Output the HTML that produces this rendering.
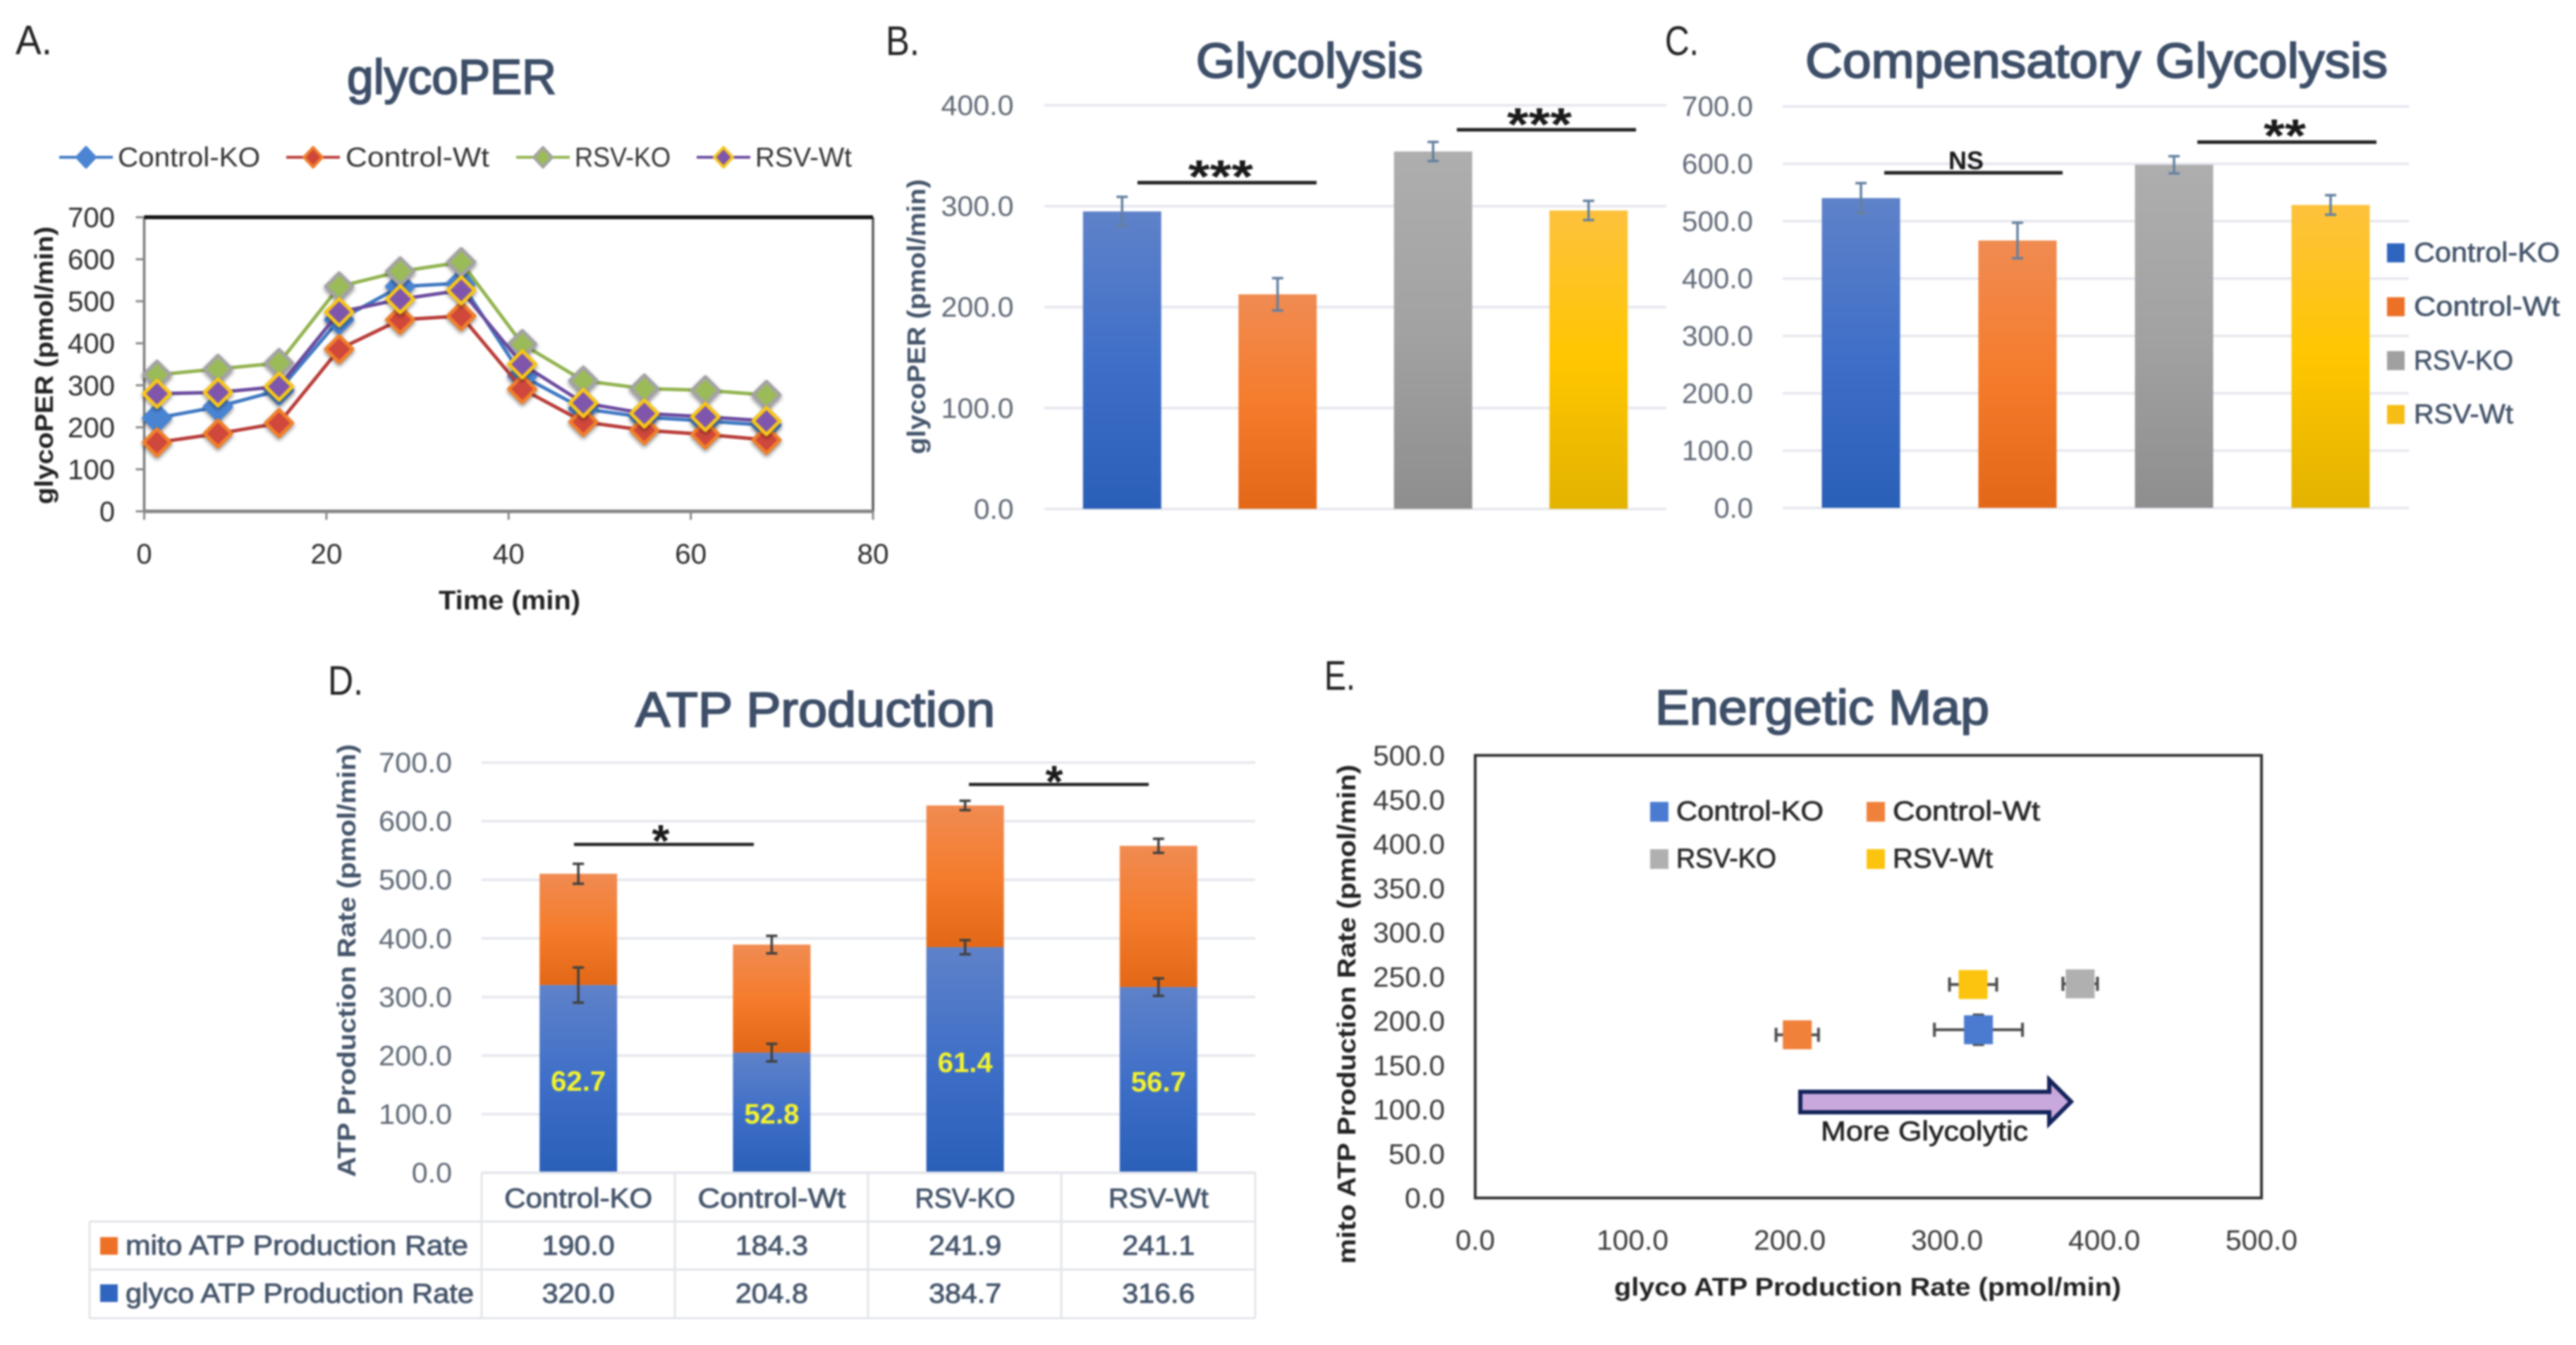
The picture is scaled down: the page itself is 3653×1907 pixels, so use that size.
<!DOCTYPE html>
<html lang="en">
<head>
<meta charset="utf-8">
<title>Glycolytic rate and ATP production panels</title>
<style>
html,body{margin:0;padding:0;background:#fff;width:3653px;height:1907px;overflow:hidden}
#figure{display:block;filter:blur(1.4px)}
text{font-family:"Liberation Sans",sans-serif}
.panel-letter{font-size:58px;fill:#222}
.title{font-size:70px;fill:#3d4e68;stroke:#3d4e68;stroke-width:2px}
.ytitle{font-size:36px;font-weight:bold}
.sig{font-weight:bold;fill:#1a1a1a}
</style>
</head>
<body>
<svg id="figure" xmlns="http://www.w3.org/2000/svg" width="3653" height="1907" viewBox="0 0 3653 1907">
  <defs>
    <linearGradient id="grad-blue" x1="0" y1="0" x2="0" y2="1"><stop offset="0" stop-color="#5f82c9"/><stop offset=".5" stop-color="#3f6fc8"/><stop offset="1" stop-color="#2a5fb8"/></linearGradient>
    <linearGradient id="grad-orange" x1="0" y1="0" x2="0" y2="1"><stop offset="0" stop-color="#f08b52"/><stop offset=".5" stop-color="#f57c2c"/><stop offset="1" stop-color="#e26818"/></linearGradient>
    <linearGradient id="grad-gray" x1="0" y1="0" x2="0" y2="1"><stop offset="0" stop-color="#aeaeae"/><stop offset=".5" stop-color="#a2a2a2"/><stop offset="1" stop-color="#8e8e8e"/></linearGradient>
    <linearGradient id="grad-yellow" x1="0" y1="0" x2="0" y2="1"><stop offset="0" stop-color="#fdc23c"/><stop offset=".5" stop-color="#ffc600"/><stop offset="1" stop-color="#e3b300"/></linearGradient>
    <filter id="marker-shadow" x="-30%" y="-30%" width="160%" height="170%"><feDropShadow dx="0" dy="3" stdDeviation="3" flood-color="#000" flood-opacity=".45"/></filter>
  </defs>
  <rect width="3653" height="1907" fill="#fff"/>

  <!-- Panel letters and titles -->
  <text class="panel-letter" x="22" y="77" textLength="52" lengthAdjust="spacingAndGlyphs">A.</text>
  <text class="panel-letter" x="1256" y="78" textLength="48" lengthAdjust="spacingAndGlyphs">B.</text>
  <text class="panel-letter" x="2361" y="78" textLength="48" lengthAdjust="spacingAndGlyphs">C.</text>
  <text class="panel-letter" x="465" y="985" textLength="50" lengthAdjust="spacingAndGlyphs">D.</text>
  <text class="panel-letter" x="1878" y="978" textLength="44" lengthAdjust="spacingAndGlyphs">E.</text>

  <text class="title" x="492" y="133" textLength="297" lengthAdjust="spacingAndGlyphs">glycoPER</text>
  <text class="title" x="1696" y="110" textLength="322" lengthAdjust="spacingAndGlyphs">Glycolysis</text>
  <text class="title" x="2560" y="110" textLength="826" lengthAdjust="spacingAndGlyphs">Compensatory Glycolysis</text>
  <text class="title" x="901" y="1030" textLength="510" lengthAdjust="spacingAndGlyphs">ATP Production</text>
  <text class="title" x="2347" y="1027" textLength="474" lengthAdjust="spacingAndGlyphs">Energetic Map</text>

  <!-- Axis titles -->
  <text class="ytitle" fill="#222" text-anchor="middle" transform="translate(75 518) rotate(-90)" textLength="394" lengthAdjust="spacingAndGlyphs">glycoPER (pmol/min)</text>
  <text fill="#222" font-size="38" font-weight="bold" x="622" y="864" textLength="201" lengthAdjust="spacingAndGlyphs">Time (min)</text>
  <text class="ytitle" fill="#44546a" text-anchor="middle" transform="translate(1312 449) rotate(-90)" textLength="390" lengthAdjust="spacingAndGlyphs">glycoPER (pmol/min)</text>
  <text class="ytitle" fill="#44546a" text-anchor="middle" transform="translate(504 1362) rotate(-90)" textLength="614" lengthAdjust="spacingAndGlyphs">ATP Production Rate (pmol/min)</text>
  <text class="ytitle" fill="#222" text-anchor="middle" transform="translate(1922 1438) rotate(-90)" textLength="708" lengthAdjust="spacingAndGlyphs">mito ATP Production Rate (pmol/min)</text>
  <text fill="#222" font-size="36" font-weight="bold" x="2289" y="1837" textLength="719" lengthAdjust="spacingAndGlyphs">glyco ATP Production Rate (pmol/min)</text>

  <!-- Chart content drawn by script, below annotations -->
  <g id="chart-a"></g>
  <g id="chart-b"></g>
  <g id="chart-c"></g>
  <g id="chart-d"></g>
  <g id="chart-e"></g>

  <!-- Significance annotations -->
  <g>
    <rect x="1613" y="256.5" width="254" height="5" fill="#222"/>
    <text class="sig" font-size="66" x="1731" y="273" text-anchor="middle" textLength="92" lengthAdjust="spacingAndGlyphs">***</text>
    <rect x="2066" y="181.5" width="254" height="5" fill="#222"/>
    <text class="sig" font-size="66" x="2183" y="199" text-anchor="middle" textLength="92" lengthAdjust="spacingAndGlyphs">***</text>
    <rect x="2672" y="242.5" width="253" height="5" fill="#222"/>
    <text class="sig" font-size="36" x="2788" y="240" text-anchor="middle" textLength="50" lengthAdjust="spacingAndGlyphs">NS</text>
    <rect x="3116" y="199" width="254" height="5" fill="#222"/>
    <text class="sig" font-size="66" x="3240" y="215" text-anchor="middle" textLength="60" lengthAdjust="spacingAndGlyphs">**</text>
    <rect x="814" y="1195" width="255" height="4.5" fill="#222"/>
    <text class="sig" font-size="64" x="937" y="1214" text-anchor="middle">*</text>
    <rect x="1374" y="1110" width="255" height="4.5" fill="#222"/>
    <text class="sig" font-size="64" x="1495" y="1130" text-anchor="middle">*</text>
  </g>

  <!-- More glycolytic arrow -->
  <path d="M2553 1548 H2906 V1531 L2937 1562 L2906 1593 V1577 H2553 Z" fill="#c9a9dd" stroke="#14235a" stroke-width="6"/>
  <text x="2582" y="1617" font-size="39" fill="#222" stroke="#222" stroke-width=".7" textLength="294" lengthAdjust="spacingAndGlyphs">More Glycolytic</text>
</svg>

<script>
// ---- Panel A: glycoPER time course ----
const timeMinutes = [1.4, 8.1, 14.8, 21.4, 28.1, 34.8, 41.5, 48.2, 54.9, 61.6, 68.3];
const perControlKO = [222, 249, 288, 456, 535, 543, 322, 244, 224, 215, 205];
const perControlWt = [164, 185, 210, 386, 456, 465, 291, 213, 193, 183, 170];
const perRsvKO = [325, 339, 353, 535, 571, 593, 398, 311, 292, 288, 277];
const perRsvWt = [280, 283, 297, 474, 505, 526, 350, 258, 233, 225, 215];
const perXTicks = [0, 20, 40, 60, 80];
const perYTicks = [0, 100, 200, 300, 400, 500, 600, 700];

// ---- Shared categories ----
const groups = ['Control-KO', 'Control-Wt', 'RSV-KO', 'RSV-Wt'];

// ---- Panel B: Glycolysis ----
const glycolysisValues = [294.6, 212.5, 354, 295.6];
const glycolysisErrors = [14.5, 16, 9.5, 9.5];
const glycolysisTicks = [0, 100, 200, 300, 400];

// ---- Panel C: Compensatory Glycolysis ----
const compensatoryValues = [540, 466, 598, 528];
const compensatoryErrors = [26, 31, 15, 17];
const compensatoryTicks = [0, 100, 200, 300, 400, 500, 600, 700];

// ---- Panel D: ATP Production ----
const glycoAtp = [320.0, 204.8, 384.7, 316.6];
const mitoAtp = [190.0, 184.3, 241.9, 241.1];
const glycoAtpErrors = [30, 15, 12, 15];
const mitoAtpErrors = [17, 15, 8, 12];
const glycoPercent = [62.7, 52.8, 61.4, 56.7];
const atpTicks = [0, 100, 200, 300, 400, 500, 600, 700];

// ---- Panel E: Energetic Map ----
const mapXErrors = [28, 13.5, 11, 15];
const mapYErrors = [17, 4, 5, 4];
const mapYTicks = [0, 50, 100, 150, 200, 250, 300, 350, 400, 450, 500];
const mapXTicks = [0, 100, 200, 300, 400, 500];

// ---- Axis functions ----
const ax = v => 204.5 + v * (1238 - 204.5) / 80;
const ay = v => 725 - v * (725 - 308) / 700;
const bx = i => 1481 + (i + 0.5) * 220.5;
const by = v => 721.4 - v * (721.4 - 149) / 400;
const cx = i => 2528 + (i + 0.5) * 222;
const cy = v => 720 - v * (720 - 150.7) / 700;
const dx = i => 683 + (i + 0.5) * 274.25;
const dy = v => 1662.6 - v * (1662.6 - 1081) / 700;
const ex = v => 2092 + v * (3207 - 2092) / 500;
const ey = v => 1698.5 - v * (1698.5 - 1071) / 500;

const SVGNS = 'http://www.w3.org/2000/svg';
function mk(tag, attrs, parent) {
  const el = document.createElementNS(SVGNS, tag);
  for (const k in attrs) el.setAttribute(k, attrs[k]);
  parent.appendChild(el);
  return el;
}
function label(parent, str, x, y, size, anchor, fill, len) {
  const t = mk('text', {x: x, y: y, 'font-size': size, 'text-anchor': anchor, fill: fill}, parent);
  if (len) {
    t.setAttribute('textLength', len);
    t.setAttribute('lengthAdjust', 'spacingAndGlyphs');
  }
  t.textContent = str;
  
  return t;
}
function errorBar(parent, x, yHigh, yLow, color, name) {
  const g = mk('g', {stroke: color, 'stroke-width': 3.5, fill: 'none'}, parent);
  
  
  mk('line', {x1: x, x2: x, y1: yHigh, y2: yLow}, g);
  mk('line', {x1: x - 8, x2: x + 8, y1: yHigh, y2: yHigh}, g);
  mk('line', {x1: x - 8, x2: x + 8, y1: yLow, y2: yLow}, g);
}
function gridAndLabels(parent, ticks, yFn, xLeft, xRight, labelRight, labelLen, fill) {
  ticks.forEach(tick => {
    const line = mk('rect', {x: xLeft, y: yFn(tick) - 1.5, width: xRight - xLeft, height: 3.5, fill: '#e5e7ee'}, parent);
    
    
    const t = label(parent, tick.toFixed(1), labelRight, yFn(tick) + 14, 40, 'end', fill, tick === 0 ? labelLen * 0.55 : labelLen);
    
  });
}
const barFills = ['url(#grad-blue)', 'url(#grad-orange)', 'url(#grad-gray)', 'url(#grad-yellow)'];
function simpleBars(parent, values, errors, xFn, yFn, slug) {
  values.forEach((v, i) => {
    const bar = mk('rect', {x: xFn(i) - 55.5, y: yFn(v), width: 111, height: yFn(0) - yFn(v), fill: barFills[i]}, parent);
    
    
    errorBar(parent, xFn(i), yFn(v + errors[i]), yFn(v - errors[i]), '#64809f', slug + '-error-bar');
  });
}

// ---- Draw Panel A ----
(function () {
  const root = document.getElementById('chart-a');
  const frame = mk('g', {}, root);
  
  
  mk('rect', {x: ax(0), y: ay(700), width: ax(80) - ax(0), height: ay(0) - ay(700), fill: '#fff'}, frame);
  mk('line', {x1: ax(0), x2: ax(0), y1: ay(0), y2: ay(700), stroke: '#7a7a7a', 'stroke-width': 3.5}, frame);
  mk('line', {x1: ax(80), x2: ax(80), y1: ay(0), y2: ay(700), stroke: '#5a5a5a', 'stroke-width': 3.5}, frame);
  mk('line', {x1: ax(0), x2: ax(80), y1: ay(0), y2: ay(0), stroke: '#858585', 'stroke-width': 5}, frame);
  mk('line', {x1: ax(0), x2: ax(80), y1: ay(700), y2: ay(700), stroke: '#111', 'stroke-width': 5.5}, frame);
  perYTicks.forEach(tick => {
    mk('line', {x1: ax(0) - 12, x2: ax(0), y1: ay(tick), y2: ay(tick), stroke: '#888', 'stroke-width': 3}, frame);
    const t = label(root, String(tick), 163, ay(tick) + 14, 40, 'end', '#2b2b2b', tick === 0 ? 22 : 67);
    
  });
  perXTicks.forEach(tick => {
    mk('line', {x1: ax(tick), x2: ax(tick), y1: ay(0), y2: ay(0) + 12, stroke: '#888', 'stroke-width': 3}, frame);
    const t = label(root, String(tick), ax(tick), 799, 40, 'middle', '#2b2b2b', tick === 0 ? 22 : 45);
    
  });

  const seriesValues = [perControlKO, perControlWt, perRsvKO, perRsvWt];
  const lineColors = ['#3f78c2', '#b83c38', '#92b350', '#6a4a9e'];
  const markerFills = ['#4a84d2', '#d0473a', '#9bbb59', '#7f56ab'];
  const markerEdges = ['#4a84d2', '#ef7f2c', '#a3a3a3', '#f6c51e'];
  const seriesSlugs = ['control-ko', 'control-wt', 'rsv-ko', 'rsv-wt'];
  seriesValues.forEach((vals, s) => {
    const g = mk('g', {}, root);
    
    
    const line = mk('polyline', {points: vals.map((v, i) => ax(timeMinutes[i]) + ',' + ay(v)).join(' '), fill: 'none', stroke: lineColors[s], 'stroke-width': 5}, g);
    
    
    vals.forEach((v, i) => {
      const px = ax(timeMinutes[i]);
      const py = ay(v);
      const d = mk('polygon', {points: [px, py - 19, px + 19, py, px, py + 19, px - 19, py].join(' '), fill: markerFills[s], stroke: markerEdges[s], 'stroke-width': 5, 'stroke-linejoin': 'round', filter: 'url(#marker-shadow)'}, g);
      
      
    });
    // legend entry
    const lineStart = [84, 406, 732, 988][s];
    const textStart = [167, 490, 815, 1071][s];
    const textLen = [202, 204, 136, 137][s];
    const leg = mk('g', {}, root);
    
    
    mk('line', {x1: lineStart, x2: lineStart + 76, y1: 223, y2: 223, stroke: lineColors[s], 'stroke-width': 4}, leg);
    const mx = lineStart + 38;
    mk('polygon', {points: [mx, 209, mx + 13, 223, mx, 237, mx - 13, 223].join(' '), fill: markerFills[s], stroke: markerEdges[s], 'stroke-width': 4, 'stroke-linejoin': 'round'}, leg);
    const lt = label(leg, groups[s], textStart, 236, 39, 'start', '#333', textLen);
    
  });
})();

// ---- Draw Panel B ----
(function () {
  const root = document.getElementById('chart-b');
  gridAndLabels(root, glycolysisTicks, by, 1481, 2363, 1437.5, 103, '#5f6875');
  simpleBars(root, glycolysisValues, glycolysisErrors, bx, by, 'glycolysis');
})();

// ---- Draw Panel C ----
(function () {
  const root = document.getElementById('chart-c');
  gridAndLabels(root, compensatoryTicks, cy, 2528, 3416, 2486, 101, '#5f6875');
  simpleBars(root, compensatoryValues, compensatoryErrors, cx, cy, 'compensatory');
  const legendFills = ['#2f64bf', '#ed7027', '#a0a0a0', '#f6bd16'];
  const legendLens = [207, 207, 141, 141];
  groups.forEach((g, i) => {
    const top = 345 + i * 76.4;
    const sw = mk('rect', {x: 3385, y: top, width: 25, height: 27, fill: legendFills[i]}, root);
    
    
    const t = label(root, g, 3423, top + 26, 39, 'start', '#44546a', legendLens[i]);
    t.setAttribute('stroke', '#44546a');
    t.setAttribute('stroke-width', '.7');
    
  });
})();

// ---- Draw Panel D ----
(function () {
  const root = document.getElementById('chart-d');
  gridAndLabels(root, atpTicks, dy, 683, 1780, 641, 104, '#5f6875');
  groups.forEach((g, i) => {
    const total = glycoAtp[i] + mitoAtp[i];
    const mito = mk('rect', {x: dx(i) - 55, y: dy(total), width: 110, height: dy(glycoAtp[i]) - dy(total), fill: 'url(#grad-orange)'}, root);
    
    
    const glyco = mk('rect', {x: dx(i) - 55, y: dy(glycoAtp[i]), width: 110, height: dy(0) - dy(glycoAtp[i]), fill: 'url(#grad-blue)'}, root);
    
    
    errorBar(root, dx(i), dy(glycoAtp[i] + glycoAtpErrors[i]), dy(glycoAtp[i] - glycoAtpErrors[i]), '#3f3f3f', 'glyco-atp-error-bar');
    errorBar(root, dx(i), dy(total + mitoAtpErrors[i]), dy(total - mitoAtpErrors[i]), '#3f3f3f', 'mito-atp-error-bar');
    const pct = label(root, glycoPercent[i].toFixed(1), dx(i), dy(glycoAtp[i] * 0.49) + 14, 40, 'middle', '#f3f32e', 78);
    pct.setAttribute('font-weight', 'bold');
    
  });

  // data table
  const table = mk('g', {stroke: '#e3e5ea', 'stroke-width': 3}, root);
  
  
  [1662.6, 1732, 1800, 1869].forEach((y, r) => {
    mk('line', {x1: r === 0 ? 683 : 127, x2: 1780, y1: y, y2: y}, table);
  });
  [683, 957, 1231, 1505, 1780].forEach(x => {
    mk('line', {x1: x, x2: x, y1: 1662.6, y2: 1869}, table);
  });
  mk('line', {x1: 127, x2: 127, y1: 1732, y2: 1869}, table);
  const headLens = [210, 210, 142, 142];
  const cell = (str, x, y, len, anchor) => {
    const t = label(root, str, x, y, 39, anchor || 'middle', '#44546a', len);
    t.setAttribute('stroke', '#44546a');
    t.setAttribute('stroke-width', '.9');
    return t;
  };
  groups.forEach((g, i) => {
    const h = cell(g, dx(i), 1712, headLens[i]);
    
    const m = cell(mitoAtp[i].toFixed(1), dx(i), 1779, 103);
    
    const y = cell(glycoAtp[i].toFixed(1), dx(i), 1847, 103);
    
  });
  const mitoSwatch = mk('rect', {x: 142, y: 1754, width: 25, height: 25, fill: '#ed7027'}, root);
  
  
  const glycoSwatch = mk('rect', {x: 142, y: 1821, width: 25, height: 25, fill: '#2f64bf'}, root);
  
  
  const mitoLabel = cell('mito ATP Production Rate', 178, 1779, 486, 'start');
  
  const glycoLabel = cell('glyco ATP Production Rate', 178, 1847, 494, 'start');
  
})();

// ---- Draw Panel E ----
(function () {
  const root = document.getElementById('chart-e');
  const box = mk('rect', {x: ex(0), y: ey(500), width: ex(500) - ex(0), height: ey(0) - ey(500), fill: 'none', stroke: '#333', 'stroke-width': 4}, root);
  
  
  mapYTicks.forEach(tick => {
    const t = label(root, tick.toFixed(1), 2049, ey(tick) + 14, 40, 'end', '#3a3a3a', tick === 0 ? 57 : (tick < 100 ? 80 : 102));
    
  });
  mapXTicks.forEach(tick => {
    const t = label(root, tick.toFixed(1), ex(tick), 1772, 40, 'middle', '#3a3a3a', tick === 0 ? 56 : 102);
    
  });
  const fills = ['#4a7bd0', '#f0813a', '#b0b0b0', '#fcc40e'];
  groups.forEach((g, i) => {
    const px = ex(glycoAtp[i]);
    const py = ey(mitoAtp[i]);
    errorBar(root, px, py - mapYErrors[i] * 1.255, py + mapYErrors[i] * 1.255, '#4d4d4d', 'energetic-y-error-bar');
    const errX = mk('g', {stroke: '#4d4d4d', 'stroke-width': 4}, root);
    
    
    const xl = ex(glycoAtp[i] - mapXErrors[i]);
    const xr = ex(glycoAtp[i] + mapXErrors[i]);
    mk('line', {x1: xl, x2: xr, y1: py, y2: py}, errX);
    mk('line', {x1: xl, x2: xl, y1: py - 10, y2: py + 10}, errX);
    mk('line', {x1: xr, x2: xr, y1: py - 10, y2: py + 10}, errX);
    const pt = mk('rect', {x: px - 20.5, y: py - 20.5, width: 41, height: 41, fill: fills[i]}, root);
    
    
    const swX = i % 2 === 0 ? 2340 : 2647;
    const swY = i < 2 ? 1137 : 1204;
    const sw = mk('rect', {x: swX, y: swY, width: 26, height: 28, fill: fills[i]}, root);
    
    
    const lt = label(root, g, swX + 37, swY + 26, 39, 'start', '#2a2a2a', i < 2 ? 209 : 142);
    lt.setAttribute('stroke', '#2a2a2a');
    lt.setAttribute('stroke-width', '.8');
    
  });
})();
</script>
</body>
</html>
